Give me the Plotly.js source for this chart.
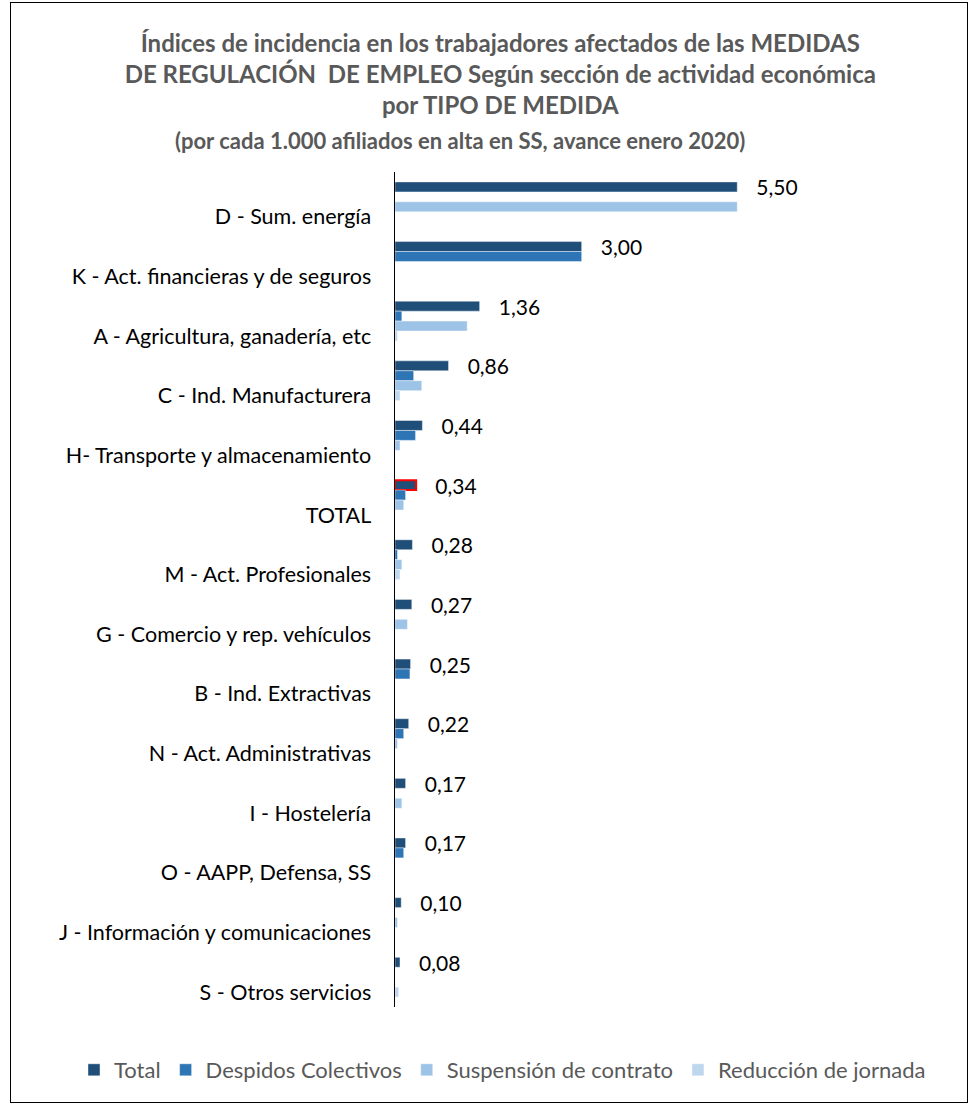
<!DOCTYPE html>
<html>
<head>
<meta charset="utf-8">
<script src="https://cdn.plot.ly/plotly-3.0.1.min.js"></script>
<style>
  html, body { margin: 0; padding: 0; background: #fff; }
  #wrap { position: relative; width: 979px; height: 1105px; }
  #chart { position: absolute; left: 0; top: 0; width: 979px; height: 1105px; }
  #frame { position: absolute; left: 10px; top: 2px; width: 958px; height: 1101px; border: 1.5px solid #000; pointer-events: none; box-sizing: border-box; }
</style>
</head>
<body>
<div id="wrap">
  <div id="chart"></div>
  <div id="frame"></div>
</div>
<script>
const categories = [
  'D - Sum. energía',
  'K - Act. financieras y de seguros',
  'A - Agricultura, ganadería, etc',
  'C - Ind. Manufacturera',
  'H- Transporte y almacenamiento',
  'TOTAL',
  'M - Act. Profesionales',
  'G - Comercio y rep. vehículos',
  'B - Ind. Extractivas',
  'N - Act. Administrativas',
  'I - Hostelería',
  'O - AAPP, Defensa, SS',
  'J - Información y comunicaciones',
  'S - Otros servicios'
];
const seriesNames = ['Total', 'Despidos Colectivos', 'Suspensión de contrato', 'Reducción de jornada'];
const total      = [5.50, 3.00, 1.36, 0.86, 0.44, 0.34, 0.28, 0.27, 0.25, 0.22, 0.17, 0.17, 0.10, 0.08];
const despidos   = [0.00, 3.00, 0.11, 0.30, 0.33, 0.17, 0.04, 0.00, 0.24, 0.14, 0.00, 0.14, 0.00, 0.00];
const suspension = [5.50, 0.00, 1.16, 0.43, 0.08, 0.14, 0.11, 0.20, 0.00, 0.04, 0.11, 0.00, 0.04, 0.00];
const reduccion  = [0.00, 0.00, 0.04, 0.08, 0.00, 0.00, 0.08, 0.00, 0.00, 0.00, 0.00, 0.00, 0.00, 0.06];

const titleLines = [
  'Índices de incidencia en los trabajadores afectados de las MEDIDAS',
  'DE REGULACIÓN  DE EMPLEO Según sección de actividad económica',
  'por TIPO DE MEDIDA'
];
const subtitle = '(por cada 1.000 afiliados en alta en SS, avance enero 2020)';

const colors = ['#1f4e79', '#2e75b6', '#9dc3e6', '#bdd7ee'];
const FONT = 'Lato, "Open Sans", sans-serif';

const highlight = 'TOTAL';
const totalLineColor = categories.map(c => c === highlight ? '#ff0000' : 'rgba(255,255,255,0.7)');
const totalLineWidth = categories.map(c => c === highlight ? 2 : 0.6);

const seriesValues = [total, despidos, suspension, reduccion];
const traces = seriesValues.map((vals, i) => ({
  type: 'bar',
  orientation: 'h',
  name: seriesNames[i],
  y: categories,
  x: vals,
  marker: {
    color: colors[i],
    line: i === 0 ? { color: totalLineColor, width: totalLineWidth } : { color: 'rgba(255,255,255,0.7)', width: 0.6 }
  },
  texttemplate: i === 0 ? '\u00a0\u00a0\u00a0%{x:.2f}' : undefined,
  textposition: i === 0 ? 'outside' : 'none',
  constraintext: 'none',
  outsidetextfont: { family: FONT, size: 21, color: '#000' },
  cliponaxis: false,
  hoverinfo: 'x+y+name'
}));

// plot area: left 395, right 960, top 172, bottom 1007
const PLOT_L = 395, PLOT_W = 565, PLOT_B = 1007, PLOT_H = 835;

const layout = {
  width: 979,
  height: 1105,
  paper_bgcolor: '#fff',
  plot_bgcolor: '#fff',
  separators: ',.',
  font: { family: FONT, color: '#000' },
  margin: { l: PLOT_L, r: 979 - PLOT_L - PLOT_W, t: 172, b: 1105 - PLOT_B },
  barmode: 'group',
  bargap: 0.333,
  bargroupgap: 0,
  title: {
    text: titleLines.join('<br>'),
    font: { family: FONT, size: 24, color: '#595959', weight: 700 },
    x: 0.511, xanchor: 'center', xref: 'container',
    y: 1 - 52 / 1105, yanchor: 'middle', yref: 'container'
  },
  annotations: [{
    text: subtitle,
    xref: 'paper', yref: 'paper',
    x: (460 - PLOT_L) / PLOT_W, y: (PLOT_B - 140) / PLOT_H,
    xanchor: 'center', yanchor: 'middle',
    showarrow: false,
    font: { family: FONT, size: 22, color: '#595959', weight: 700 }
  }],
  xaxis: {
    range: [0, 9.08],
    showticklabels: false,
    showgrid: false,
    zeroline: false,
    showline: false,
    ticks: ''
  },
  yaxis: {
    type: 'category',
    categoryorder: 'array',
    categoryarray: categories,
    autorange: 'reversed',
    showline: true,
    linecolor: '#000',
    linewidth: 1.5,
    showgrid: false,
    ticks: '',
    ticklabelshift: -15,
    ticklabelstandoff: 18,
    tickfont: { family: FONT, size: 21.5, color: '#000' }
  },
  showlegend: true,
  legend: {
    orientation: 'h',
    xref: 'paper', yref: 'paper',
    x: (74 - PLOT_L) / PLOT_W, xanchor: 'left',
    y: (PLOT_B - 1070) / PLOT_H, yanchor: 'middle',
    font: { family: FONT, size: 22, color: '#595959' },
    traceorder: 'normal'
  }
};

Plotly.newPlot('chart', traces, layout, { displayModeBar: false, staticPlot: true });
</script>
</body>
</html>
